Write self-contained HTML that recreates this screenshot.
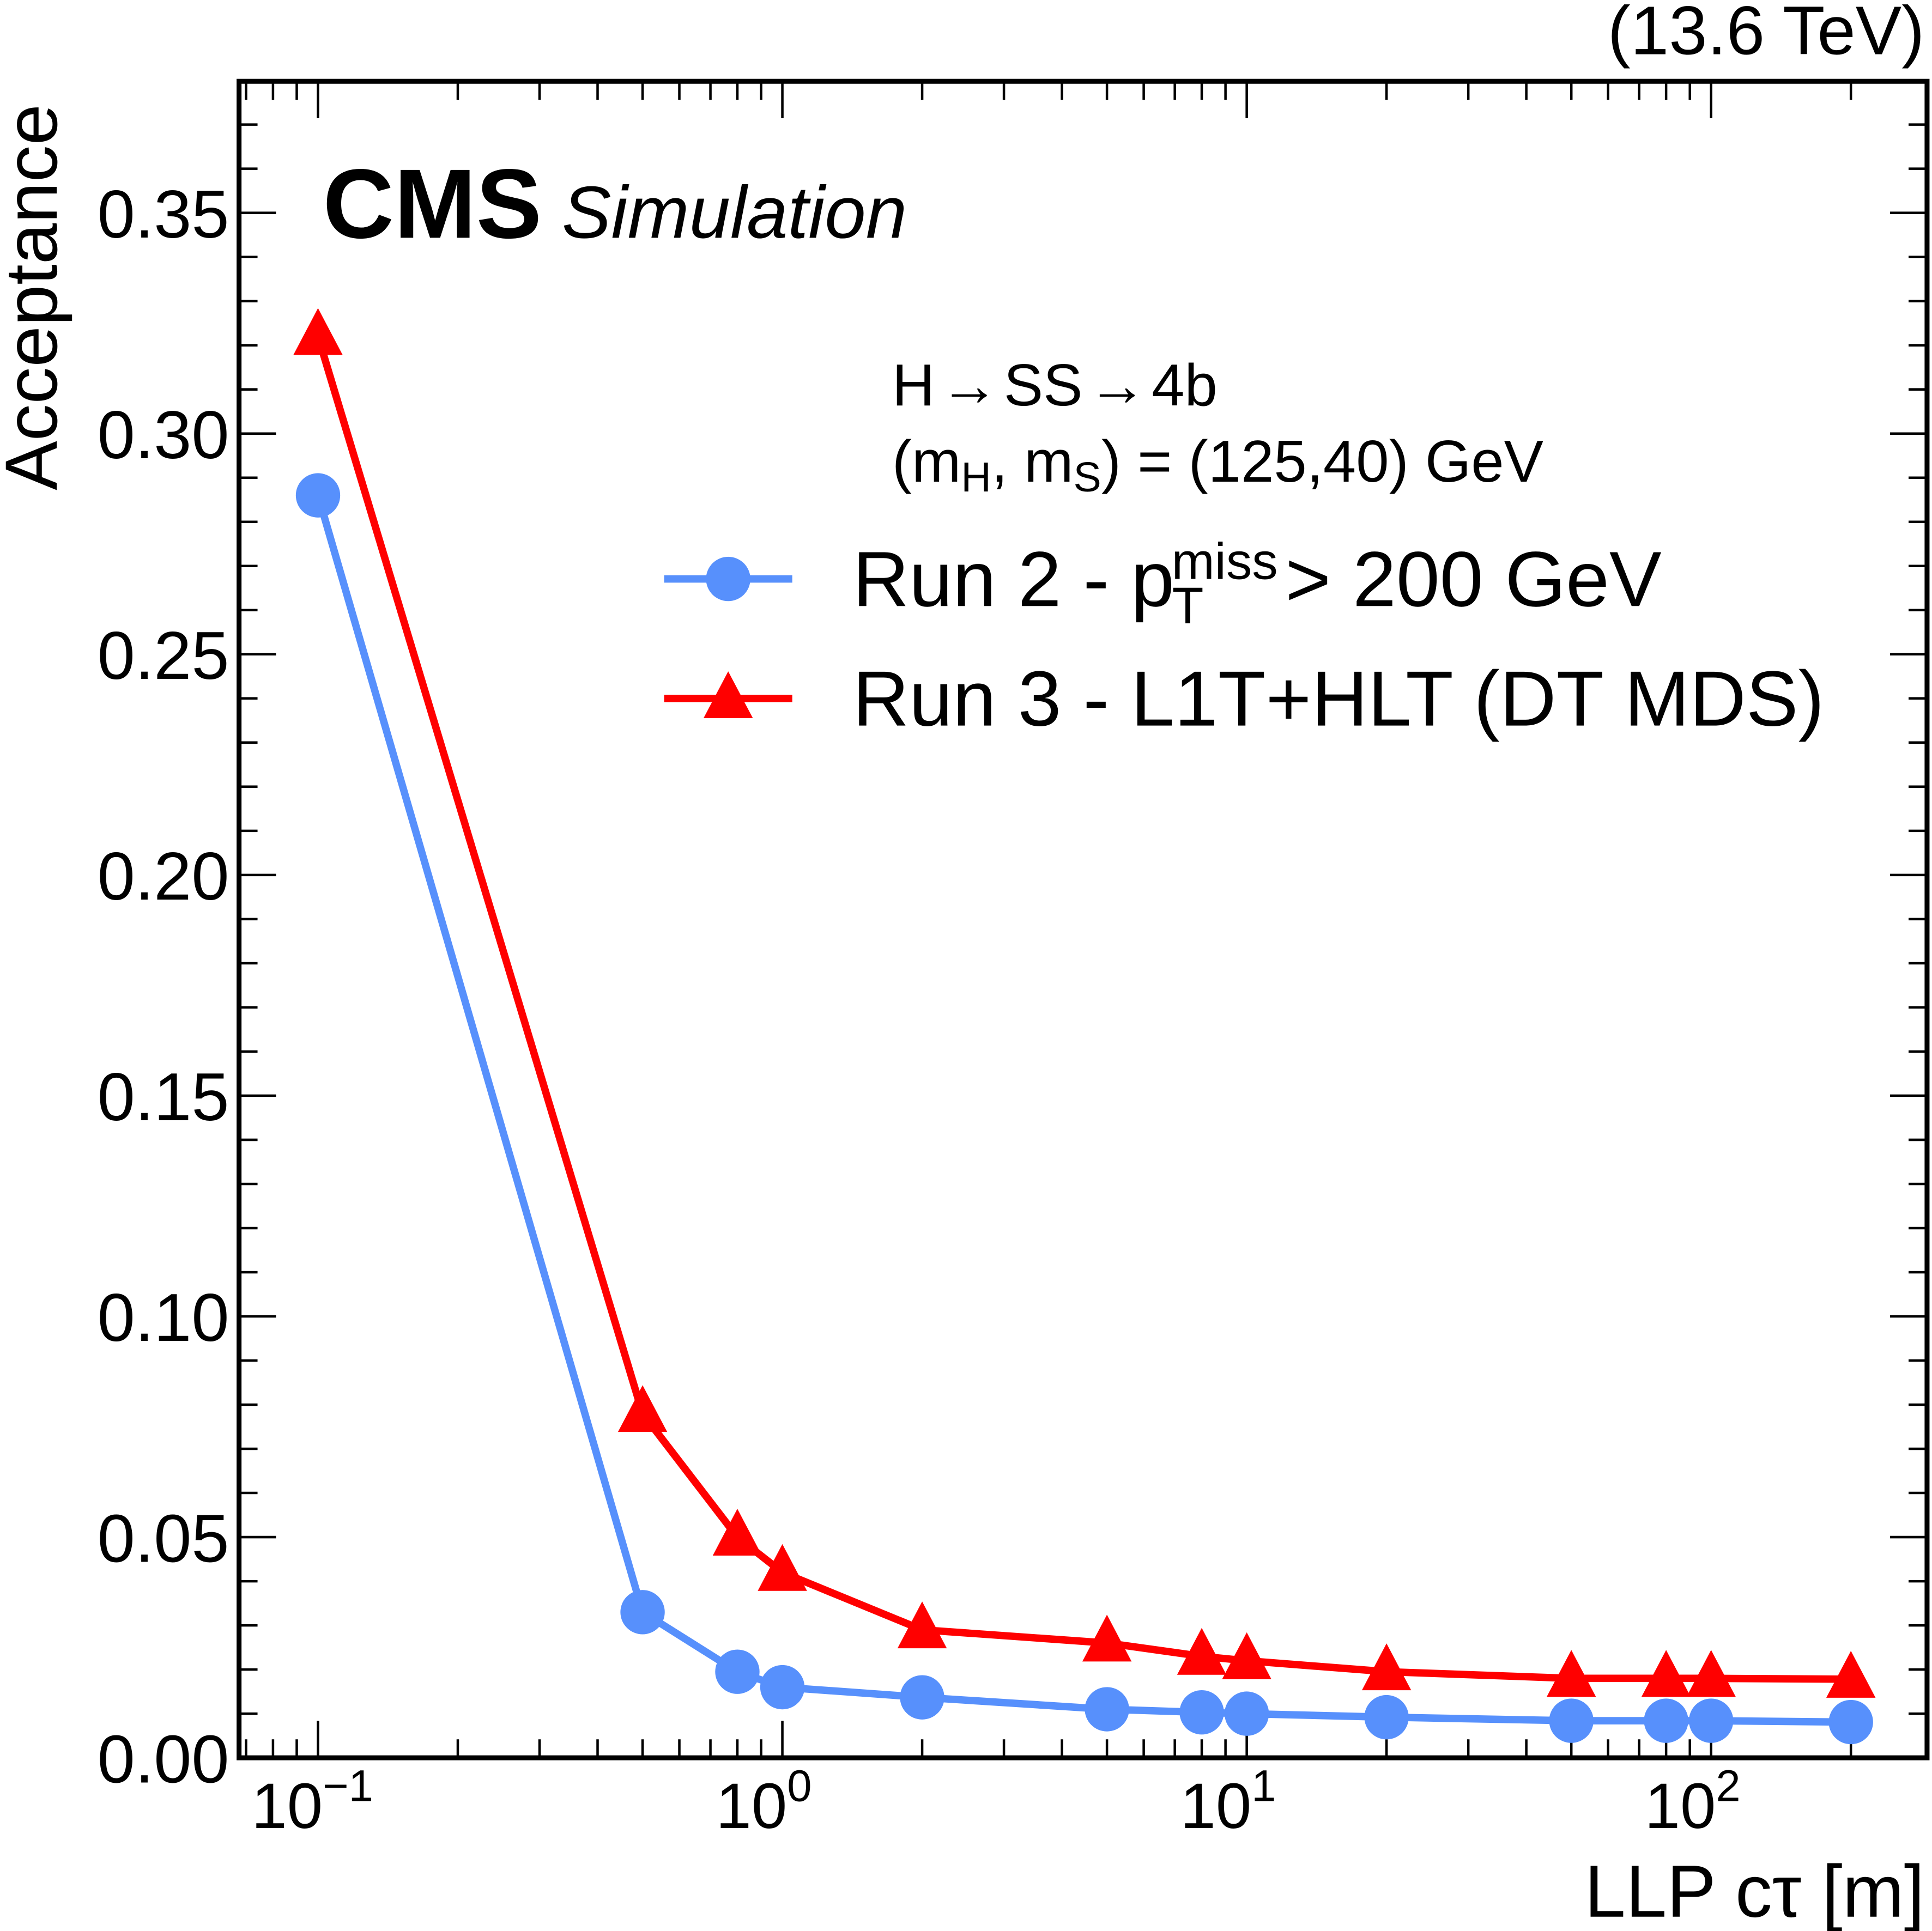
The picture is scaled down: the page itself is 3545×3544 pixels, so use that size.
<!DOCTYPE html>
<html><head><meta charset="utf-8"><style>
html,body{margin:0;padding:0;background:#fff;}
svg{display:block;}
text{font-family:"Liberation Sans","DejaVu Sans",sans-serif;}
</style></head><body>
<svg id="chart" width="3545" height="3544" viewBox="0 0 1568 1567.6" xmlns="http://www.w3.org/2000/svg">
<g id="ticks"></g>
<g id="series"></g>
<rect x="194" y="66" width="1370" height="1361" fill="none" stroke="#000" stroke-width="4"/>
<g id="labels" font-size="52"></g>
<text x="1562" y="1556" font-size="60" text-anchor="end">LLP cτ [m]</text>
<text transform="translate(46,398) rotate(-90)" font-size="60">Acceptance</text>
<text x="1562" y="44" font-size="56" text-anchor="end">(13.6 TeV)</text>
<text x="262" y="193" font-size="80" font-weight="bold">CMS</text>
<text x="456" y="193" font-size="60" font-style="italic">Simulation</text>
<text x="724" y="329" font-size="48">H<tspan dx="4">→</tspan><tspan dx="4">SS</tspan><tspan dx="4">→</tspan><tspan dx="4">4b</tspan></text>
<text x="724" y="391" font-size="48">(m<tspan font-size="34" dy="8">H</tspan><tspan dy="-8">, m</tspan><tspan font-size="34" dy="8">S</tspan><tspan dy="-8">) = (125,40) GeV</tspan></text>
<g>
<line x1="539" y1="470" x2="643" y2="470" stroke="#5790fc" stroke-width="6"/>
<circle cx="591" cy="470" r="18" fill="#5790fc"/>
<text x="692" y="492" font-size="63.5">Run 2 - p<tspan font-size="42" dx="-2" dy="14">T</tspan><tspan font-size="42" dx="-26" dy="-36">miss</tspan><tspan dx="6" dy="22">&gt; 200 GeV</tspan></text>
</g>
<g>
<line x1="539" y1="567" x2="643" y2="567" stroke="#ff0000" stroke-width="6"/>
<polygon points="591,545 611,583 571,583" fill="#ff0000"/>
<text x="692" y="589" font-size="63.5">Run 3 - L1T+HLT (DT MDS)</text>
</g>
</svg>
<script>
const ctau = [0.1, 0.5, 0.8, 1, 2, 5, 8, 10, 20, 50, 80, 100, 200];
const run2 = [0.286, 0.033, 0.0195, 0.016, 0.0137, 0.011, 0.0103, 0.010, 0.0092, 0.0084, 0.0084, 0.0084, 0.0081];
const run3 = [0.322, 0.078, 0.050, 0.042, 0.029, 0.026, 0.023, 0.022, 0.0195, 0.018, 0.018, 0.018, 0.0178];
const yTickLabels = ["0.00","0.05","0.10","0.15","0.20","0.25","0.30","0.35"];
const xDecades = [-1, 0, 1, 2];

const NS = "http://www.w3.org/2000/svg";
const L = 194, R = 1564, T = 66, B = 1427;
const xMinLog = -1.17, xMaxLog = 2.465, yMax = 0.3798;
function sx(v){ return L + (Math.log10(v) - xMinLog) / (xMaxLog - xMinLog) * (R - L); }
function sy(v){ return B - v / yMax * (B - T); }
function mk(tag, attrs, parent){ const e = document.createElementNS(NS, tag); for (const k in attrs) e.setAttribute(k, attrs[k]); parent.appendChild(e); return e; }

const ticks = document.getElementById('ticks');
const labels = document.getElementById('labels');
for (let i = 0; i <= 38; i++) {
  const v = i * 0.01; const y = sy(v);
  const len = (i % 5 === 0) ? 30 : 15;
  const t1 = mk('line', {x1: L, x2: L + len, y1: y, y2: y, stroke: '#000', 'stroke-width': 2}, ticks);
  
  
  const t2 = mk('line', {x1: R, x2: R - len, y1: y, y2: y, stroke: '#000', 'stroke-width': 2}, ticks);
  
  
}
yTickLabels.forEach(function(s){
  const y = sy(parseFloat(s));
  const t = mk('text', {x: 186, y: y + 20, 'text-anchor': 'end', 'font-size': 55}, labels);
  t.textContent = s;
  
  
});
for (let d = -2; d <= 2; d++) {
  for (let m = 1; m <= 9; m++) {
    const v = m * Math.pow(10, d); const lv = Math.log10(v);
    if (lv < xMinLog || lv > xMaxLog) continue;
    const x = sx(v); const len = (m === 1) ? 30 : 15;
    const a = mk('line', {x1: x, x2: x, y1: B, y2: B - len, stroke: '#000', 'stroke-width': 2}, ticks);
    
    
    const b = mk('line', {x1: x, x2: x, y1: T, y2: T + len, stroke: '#000', 'stroke-width': 2}, ticks);
    
    
  }
}
xDecades.forEach(function(d){
  const x = sx(Math.pow(10, d));
  const t = mk('text', {x: x - 54, y: 1484}, labels);
  
  
  t.textContent = '10';
  const s = mk('tspan', {'font-size': 36, dy: -22}, t);
  s.textContent = d < 0 ? '\u2212' + Math.abs(d) : String(d);
});
const series = document.getElementById('series');
function pathFor(vals){ return vals.map(function(v, i){ return (i ? 'L' : 'M') + sx(ctau[i]).toFixed(1) + ',' + sy(v).toFixed(1); }).join(' '); }
const l3 = mk('path', {d: pathFor(run3), fill: 'none', stroke: '#ff0000', 'stroke-width': 6, 'stroke-linejoin': 'round'}, series);


const l2 = mk('path', {d: pathFor(run2), fill: 'none', stroke: '#5790fc', 'stroke-width': 6, 'stroke-linejoin': 'round'}, series);


run3.forEach(function(v, i){
  const x = sx(ctau[i]), y = sy(v);
  const p = mk('polygon', {points: x + ',' + (y - 23) + ' ' + (x + 20) + ',' + (y + 15) + ' ' + (x - 20) + ',' + (y + 15), fill: '#ff0000'}, series);
  
  
});
run2.forEach(function(v, i){
  const c = mk('circle', {cx: sx(ctau[i]), cy: sy(v), r: 18, fill: '#5790fc'}, series);
  
  
});
</script>
</body></html>
